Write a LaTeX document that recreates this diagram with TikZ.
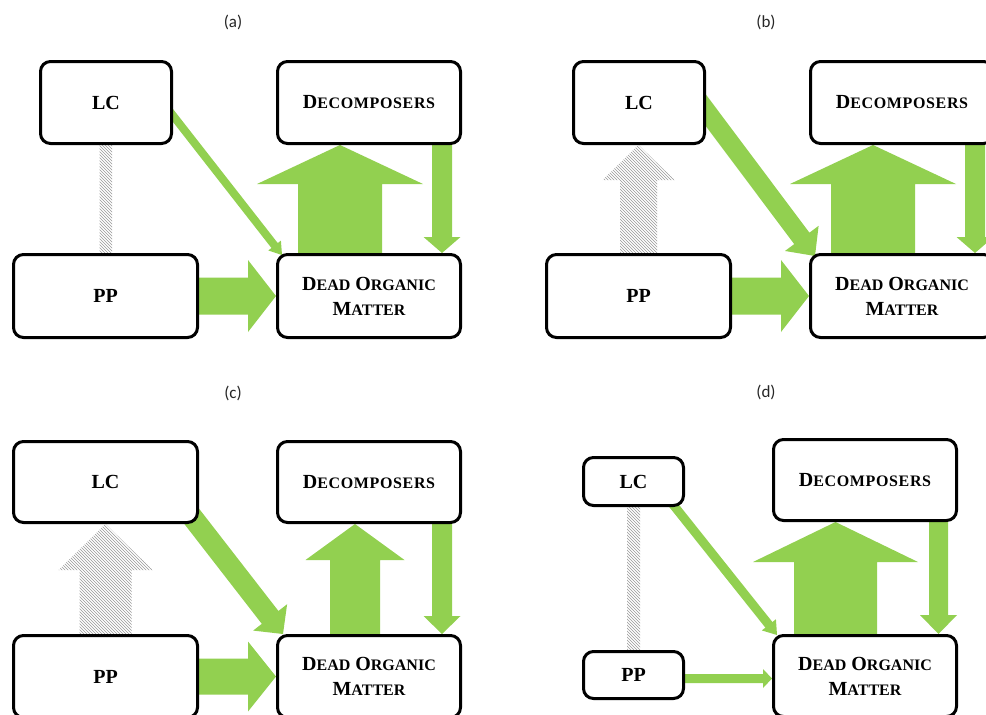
\documentclass[tikz,border=0pt]{standalone}
\usepackage{fontspec}
\setmainfont{Liberation Serif}
\newfontfamily\labfont{Carlito}
\newfontfamily\widefont[LetterSpace=4]{Liberation Serif}
\usetikzlibrary{calc,patterns}
\definecolor{leaf}{HTML}{92D050}
\pgfdeclarelayer{bg}
\pgfsetlayers{bg,main}
\newcommand\BigL[1]{{\fontsize{20}{24}\selectfont #1}}
\newcommand\SmL[1]{{\fontsize{16}{18}\selectfont #1}}
\newcommand\DecText{{\widefont\bfseries\BigL{D}\SmL{ECOMPOSERS}}}
\newcommand\DomText{\BigL{D}\SmL{EAD} \BigL{O}\SmL{RGANIC}\\\BigL{M}\SmL{ATTER}}
% #1 style, #2 start, #3 tip, #4 shaft half width, #5 head half width, #6 head length
\newcommand\blockarrow[6]{%
  \coordinate (ba-s) at ($(#2)!-16pt!(#3)$);
  \coordinate (ba-b) at ($(#3)!#6!(#2)$);
  \fill[#1] ($(ba-s)!#4!90:(#3)$) -- ($(ba-b)!#4!90:(#3)$) -- ($(ba-b)!#5!90:(#3)$)
    -- (#3) -- ($(ba-b)!#5!-90:(#3)$) -- ($(ba-b)!#4!-90:(#3)$) -- ($(ba-s)!#4!-90:(#3)$) -- cycle;}
\tikzset{
  box/.style={draw=black, line width=3pt, rounded corners=10pt, fill=white, inner sep=0pt,
    align=center, font=\fontsize{20}{25}\selectfont\bfseries},
  lab/.style={font=\labfont\fontsize{17}{19}\selectfont, inner sep=0pt, text=black!85},
  hatch/.style={pattern=north west lines, pattern color=black!40},
}
\begin{document}
\begin{tikzpicture}[x=1pt,y=-1pt]
\useasboundingbox (0,0) rectangle (986,715);
% ---------- labels
\node[lab] (labA) at (233,22) {(a)};
\node[lab] (labB) at (766,22) {(b)};
\node[lab] (labC) at (233,393) {(c)};
\node[lab] (labD) at (766,392) {(d)};
% ---------- panel (a)
\node[box, minimum width=131pt, minimum height=82pt] (lca) at (106,102.5) {LC};
\node[box, minimum width=183pt, minimum height=82pt] (deca) at (369,102.5) {\DecText};
\node[box, minimum width=184pt, minimum height=83pt] (ppa) at (105.5,296) {PP};
\node[box, minimum width=183pt, minimum height=83pt] (doma) at (369,296) {\DomText};
% ---------- panel (b)
\node[box, minimum width=131pt, minimum height=82pt] (lcb) at (639,102.5) {LC};
\node[box, minimum width=183pt, minimum height=82pt] (decb) at (902,102.5) {\DecText};
\node[box, minimum width=184pt, minimum height=83pt] (ppb) at (638.5,296) {PP};
\node[box, minimum width=183pt, minimum height=83pt] (domb) at (902,296) {\DomText};
% ---------- panel (c)
\node[box, minimum width=184pt, minimum height=81pt] (lcc) at (105.5,482) {LC};
\node[box, minimum width=183pt, minimum height=81pt] (decc) at (369,482) {\DecText};
\node[box, minimum width=184pt, minimum height=82pt] (ppc) at (105.5,676.5) {PP};
\node[box, minimum width=183pt, minimum height=82pt] (domc) at (369,676.5) {\DomText};
% ---------- panel (d)
\node[box, minimum width=100pt, minimum height=48pt] (lcd) at (633.5,481.5) {LC};
\node[box, minimum width=183pt, minimum height=81pt] (decd) at (865,480) {\DecText};
\node[box, minimum width=100pt, minimum height=47pt] (ppd) at (633.5,675) {PP};
\node[box, minimum width=183pt, minimum height=81pt] (domd) at (865,676) {\DomText};

\begin{pgfonlayer}{bg}
\fill[white] (0,0) rectangle (986,715);
% panel (a)
\coordinate (a1s) at ($(lca.east)+(0,13)$);
\coordinate (a1e) at ($(doma.north west)+(6,2)$);
\blockarrow{leaf}{a1s}{a1e}{4pt}{8pt}{12pt}
\coordinate (a2s) at ($(doma.north)+(-29,0)$);
\coordinate (a2e) at ($(deca.south)+(-29,0)$);
\blockarrow{leaf}{a2s}{a2e}{42pt}{83pt}{39pt}
\coordinate (a3s) at ($(deca.south)+(73,0)$);
\coordinate (a3e) at ($(doma.north)+(73,0)$);
\blockarrow{leaf}{a3s}{a3e}{10pt}{18.5pt}{16pt}
\blockarrow{leaf}{ppa.east}{doma.west}{18.5pt}{36pt}{28pt}
\fill[hatch] ($(lca.south)+(-6.5,0)$) rectangle ($(ppa.north)+(6.5,0)$);
% panel (b)
\coordinate (b1s) at ($(lcb.east)+(0,8)$);
\coordinate (b1e) at ($(domb.north west)+(6,3)$);
\blockarrow{leaf}{b1s}{b1e}{9.5pt}{21pt}{22pt}
\coordinate (b2s) at ($(domb.north)+(-29,0)$);
\coordinate (b2e) at ($(decb.south)+(-29,0)$);
\blockarrow{leaf}{b2s}{b2e}{42pt}{83pt}{39pt}
\coordinate (b3s) at ($(decb.south)+(73,0)$);
\coordinate (b3e) at ($(domb.north)+(73,0)$);
\blockarrow{leaf}{b3s}{b3e}{10pt}{18.5pt}{16pt}
\blockarrow{leaf}{ppb.east}{domb.west}{18.5pt}{36pt}{28pt}
\coordinate (b5e) at (ppb.north |- lcb.south);
\blockarrow{hatch}{ppb.north}{b5e}{18.5pt}{36pt}{35pt}
% panel (c)
\coordinate (c1s) at ($(lcc.south east)+(-6,-6)$);
\coordinate (c1e) at ($(domc.north west)+(7,0)$);
\blockarrow{leaf}{c1s}{c1e}{10.5pt}{21.5pt}{21pt}
\coordinate (c2s) at ($(domc.north)+(-14,0)$);
\coordinate (c2e) at ($(decc.south)+(-14,0)$);
\blockarrow{leaf}{c2s}{c2e}{25pt}{49.5pt}{36pt}
\coordinate (c3s) at ($(decc.south)+(73,0)$);
\coordinate (c3e) at ($(domc.north)+(73,0)$);
\blockarrow{leaf}{c3s}{c3e}{10pt}{18.5pt}{18pt}
\blockarrow{leaf}{ppc.east}{domc.west}{18pt}{35pt}{28pt}
\coordinate (c5e) at (ppc.north |- lcc.south);
\blockarrow{hatch}{ppc.north}{c5e}{26pt}{47pt}{46pt}
% panel (d)
\coordinate (d1s) at ($(lcd.south east)+(-10,0)$);
\coordinate (d1e) at ($(domd.north west)+(5,1)$);
\blockarrow{leaf}{d1s}{d1e}{4.5pt}{9pt}{13pt}
\coordinate (d2s) at ($(domd.north)+(-29.5,0)$);
\coordinate (d2e) at ($(decd.south)+(-29.5,0)$);
\blockarrow{leaf}{d2s}{d2e}{41.5pt}{82.5pt}{40pt}
\coordinate (d3s) at ($(decd.south)+(73.5,0)$);
\coordinate (d3e) at ($(domd.north)+(73.5,0)$);
\blockarrow{leaf}{d3s}{d3e}{9.5pt}{18.5pt}{19pt}
\coordinate (d4s) at ($(ppd.east)+(0,3.5)$);
\coordinate (d4e) at (domd.west |- d4s);
\blockarrow{leaf}{d4s}{d4e}{4.5pt}{9.5pt}{9pt}
\fill[hatch] ($(lcd.south)+(-6.5,0)$) rectangle ($(ppd.north)+(6.5,0)$);
\end{pgfonlayer}
\end{tikzpicture}
\end{document}
